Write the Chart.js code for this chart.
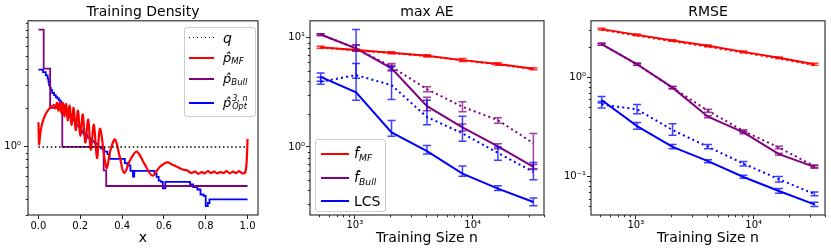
<!DOCTYPE html>
<html><head><meta charset="utf-8">
<script src="https://cdn.jsdelivr.net/npm/chart.js@4.4.0/dist/chart.umd.min.js"></script>
<style>
html,body{margin:0;padding:0;background:#fff;}
body{width:831px;height:252px;overflow:hidden;position:relative;font-family:"DejaVu Sans";}
canvas{position:absolute;top:0;display:block;}
.leg{position:absolute;background:rgba(255,255,255,0.85);border:1px solid #ccc;border-radius:3px;box-sizing:border-box;}
.row{position:absolute;left:0;height:0;width:100%;}
.ln{position:absolute;height:2px;top:-1px;}
.tx{position:absolute;top:0;transform:translateY(-50%);white-space:nowrap;line-height:1;color:#000;}
.tx i{font-style:italic;}
.tx sub{font-size:0.66em;vertical-align:-0.25em;font-style:italic;}
.ss{display:inline-block;vertical-align:middle;font-size:0.62em;font-style:italic;line-height:1.05;margin-left:1px;}
.ss span{display:block;}
</style>
</head><body>
<canvas id="c1" width="275" height="252" style="left:0px"></canvas>
<canvas id="c2" width="275" height="252" style="left:275px"></canvas>
<canvas id="c3" width="281" height="252" style="left:550px"></canvas>

<div class="leg" style="left:184px;top:27px;width:72px;height:90px;">
  <div class="row" style="top:9.7px"><span class="ln" style="left:4px;width:25px;height:1.5px;background:repeating-linear-gradient(to right,#000 0 1.5px,transparent 1.5px 4px);"></span><span class="tx" style="left:38px;font-size:14px"><i>q</i></span></div>
  <div class="row" style="top:30.3px"><span class="ln" style="left:4px;width:25px;background:#ff0000"></span><span class="tx" style="left:38px;font-size:13px"><i>p̂</i><sub>MF</sub></span></div>
  <div class="row" style="top:51.3px"><span class="ln" style="left:4px;width:25px;background:#800080"></span><span class="tx" style="left:38px;font-size:13px"><i>p̂</i><sub>Bull</sub></span></div>
  <div class="row" style="top:74.7px"><span class="ln" style="left:4px;width:25px;background:#0000ff"></span><span class="tx" style="left:38px;font-size:13px"><i>p̂</i><span class="ss"><span>3, n</span><span>Opt</span></span></span></div>
</div>

<div class="leg" style="left:315px;top:139px;width:71px;height:73px;">
  <div class="row" style="top:14px"><span class="ln" style="left:5px;width:28px;background:#ff0000"></span><span class="tx" style="left:38px;font-size:14px"><i>f̂</i><sub>MF</sub></span></div>
  <div class="row" style="top:38px"><span class="ln" style="left:5px;width:28px;background:#800080"></span><span class="tx" style="left:38px;font-size:14px"><i>f̂</i><sub>Bull</sub></span></div>
  <div class="row" style="top:61px"><span class="ln" style="left:5px;width:28px;background:#0000ff"></span><span class="tx" style="left:38px;font-size:14px">LCS</span></div>
</div>

<script>
// ---------------- Panel 1: Training Density ----------------
const densityXTicks = [0, 0.2, 0.4, 0.6, 0.8, 1.0];
const densityYMajor = [1];
const densityYMinor = [0.3,0.4,0.5,0.6,0.7,0.8,0.9,2,3,4,5,6,7,8,9];
const q_x = [0, 1];
const q_y = [1, 1];
const mf_x = [0,0.003,0.008,0.015,0.025,0.036,0.05,0.062,0.075,0.082,0.089,0.096,0.103,0.110,0.117,0.124,0.132,0.140,0.149,0.158,0.168,0.178,0.189,0.200,0.212,0.224,0.238,0.250,0.265,0.280,0.295,0.325,0.345,0.366,0.388,0.41,0.44,0.47,0.505,0.545,0.58,0.615,0.64,0.665,0.69,0.71,0.73,0.75,0.765,0.78,0.795,0.81,0.825,0.84,0.855,0.87,0.885,0.90,0.915,0.93,0.945,0.96,0.975,0.99,0.997,1.0];
const mf_y = [1.55,1.05,1.25,1.45,1.65,1.81,1.95,2.05,2.10,1.98,2.18,1.90,2.20,1.82,2.18,1.72,2.14,1.60,2.08,1.48,2.00,1.35,1.90,1.22,1.78,1.08,1.62,0.95,1.48,0.82,1.38,0.69,0.95,1.14,0.85,0.63,0.80,0.92,0.75,0.60,0.70,0.76,0.73,0.70,0.67,0.66,0.63,0.645,0.62,0.64,0.625,0.65,0.63,0.645,0.625,0.64,0.63,0.65,0.625,0.645,0.63,0.65,0.625,0.645,0.85,1.15];
const bull_x = [0, 0.025, 0.056, 0.114, 0.312, 0.324, 1.0];
const bull_y = [8, 4, 2, 1, 0.66, 0.5, 0.5];
const opt_x = [0,0.022,0.035,0.044,0.048,0.051,0.056,0.059,0.066,0.075,0.083,0.090,0.098,0.106,0.110,0.114,0.122,0.129,0.136,0.142,0.148,0.153,0.160,0.168,0.176,0.192,0.200,0.207,0.215,0.223,0.235,0.246,0.258,0.270,0.285,0.300,0.315,0.330,0.340,0.413,0.425,0.440,0.452,0.458,0.555,0.565,0.575,0.585,0.595,0.607,0.725,0.740,0.760,0.775,0.790,0.800,0.810,0.818,1.0];
const opt_y = [3.94,3.77,3.55,3.36,3.15,2.98,2.85,2.73,2.60,2.50,2.42,2.36,2.28,2.22,2.15,2.09,2.03,1.97,1.88,1.81,1.75,1.70,1.65,1.60,1.47,1.42,1.36,1.30,1.26,1.23,1.18,1.13,1.10,1.06,1.00,0.97,0.92,0.88,0.81,0.75,0.72,0.654,0.59,0.654,0.62,0.588,0.55,0.538,0.48,0.538,0.515,0.49,0.47,0.43,0.42,0.35,0.37,0.394,0.394];

// ---------------- Panels 2 & 3 ----------------
const nSizes = [512, 1024, 2048, 4096, 8192, 16384, 32768];
const nMajor = [10000, 1000];
const nMinor = [500,600,700,800,900,2000,3000,4000,5000,6000,7000,8000,9000,20000,30000,40000];

// max AE
const ae_mf = [8.17, 7.71, 7.28, 6.84, 6.24, 5.74, 5.20];
const ae_mf_lo = [8.0, 7.55, 7.15, 6.65, 6.05, 5.60, 5.10];
const ae_mf_hi = [8.35, 7.90, 7.45, 7.00, 6.45, 5.90, 5.30];
const ae_mf_dot = [8.12, 7.66, 7.24, 6.80, 6.20, 5.70, 5.16];
const ae_bull = [10.7, 8.0, 5.24, 2.36, 1.51, 1.01, 0.656];
const ae_bull_lo = [10.5, 7.6, 4.95, 2.15, 1.40, 0.96, 0.63];
const ae_bull_hi = [10.9, 8.6, 5.6, 2.85, 1.62, 1.07, 0.69];
const ae_bull_dot = [10.7, 8.0, 5.42, 3.38, 2.33, 1.76, 1.08];
const ae_bull_dot_lo = [10.5, 7.6, 5.1, 3.2, 2.1, 1.65, 0.62];
const ae_bull_dot_hi = [10.9, 8.6, 5.8, 3.55, 2.6, 1.85, 1.33];
const ae_lcs = [4.38, 3.16, 1.36, 0.914, 0.57, 0.415, 0.313];
const ae_lcs_lo = [4.0, 2.68, 1.25, 0.86, 0.54, 0.40, 0.29];
const ae_lcs_hi = [4.75, 5.8, 1.75, 1.03, 0.67, 0.44, 0.34];
const ae_lcs_dot = [3.95, 4.55, 3.68, 1.88, 1.33, 0.88, 0.59];
const ae_lcs_dot_lo = [3.75, 4.25, 2.72, 1.60, 1.13, 0.755, 0.50];
const ae_lcs_dot_hi = [4.35, 11.9, 5.42, 2.68, 1.91, 1.0, 0.72];
const aeYMajor = [1, 10];
const aeYMinor = [0.3,0.4,0.5,0.6,0.7,0.8,0.9,2,3,4,5,6,7,8,9];

// RMSE
const rm_mf = [3.05, 2.67, 2.34, 2.07, 1.80, 1.57, 1.35];
const rm_mf_lo = [2.99, 2.62, 2.30, 2.03, 1.76, 1.54, 1.32];
const rm_mf_hi = [3.11, 2.72, 2.38, 2.11, 1.84, 1.60, 1.38];
const rm_mf_dot = [3.0, 2.62, 2.30, 2.03, 1.77, 1.54, 1.32];
const rm_bull = [2.15, 1.35, 0.785, 0.40, 0.278, 0.168, 0.125];
const rm_bull_lo = [2.10, 1.32, 0.765, 0.39, 0.270, 0.164, 0.121];
const rm_bull_hi = [2.20, 1.38, 0.805, 0.41, 0.286, 0.172, 0.129];
const rm_bull_dot = [2.15, 1.35, 0.785, 0.46, 0.287, 0.196, 0.127];
const rm_bull_dot_lo = [2.10, 1.32, 0.765, 0.445, 0.278, 0.190, 0.123];
const rm_bull_dot_hi = [2.20, 1.38, 0.805, 0.475, 0.296, 0.202, 0.131];
const rm_lcs = [0.59, 0.322, 0.199, 0.143, 0.099, 0.0716, 0.0525];
const rm_lcs_lo = [0.55, 0.30, 0.19, 0.138, 0.096, 0.068, 0.050];
const rm_lcs_hi = [0.64, 0.35, 0.21, 0.148, 0.103, 0.076, 0.055];
const rm_lcs_dot = [0.53, 0.475, 0.294, 0.199, 0.135, 0.094, 0.0667];
const rm_lcs_dot_lo = [0.49, 0.43, 0.26, 0.19, 0.128, 0.088, 0.064];
const rm_lcs_dot_hi = [0.57, 0.53, 0.34, 0.21, 0.142, 0.100, 0.070];
const rmYMajor = [0.1, 1];
const rmYMinor = [0.05,0.06,0.07,0.08,0.09,0.2,0.3,0.4,0.5,0.6,0.7,0.8,0.9,2,3];

const POW_LABELS = {"0.1":"10⁻¹","1":"10⁰","10":"10¹","1000":"10³","10000":"10⁴"};
const FONT = "DejaVu Sans";
const RED = "#ff0000", PURPLE = "#800080", BLUE = "#0000ff";

const pts = (xs, ys) => xs.map((x, i) => ({x, y: ys[i]}));

const framePlugin = {
  id: 'frame',
  afterDraw(chart, args, opts) {
    const {ctx, chartArea: {left, right, top, bottom}} = chart;
    const xs = chart.scales.x, ys = chart.scales.y;
    ctx.save();
    ctx.strokeStyle = '#222'; ctx.lineWidth = 1; ctx.setLineDash([]);
    ctx.beginPath();
    (opts.xMinor || []).forEach(v => {
      if (v < xs.min || v > xs.max) return;
      const x = Math.round(xs.getPixelForValue(v)) + 0.5;
      ctx.moveTo(x, bottom); ctx.lineTo(x, bottom + 2.2);
    });
    (opts.yMinor || []).forEach(v => {
      if (v < ys.min || v > ys.max) return;
      const y = Math.round(ys.getPixelForValue(v)) + 0.5;
      ctx.moveTo(left, y); ctx.lineTo(left - 2.2, y);
    });
    ctx.stroke();
    ctx.lineWidth = 1.1;
    ctx.strokeRect(left, top, right - left, bottom - top);
    ctx.restore();
  }
};

const errorBarPlugin = {
  id: 'errbars',
  afterDatasetsDraw(chart) {
    const {ctx, chartArea} = chart;
    const xs = chart.scales.x, ys = chart.scales.y;
    ctx.save();
    ctx.beginPath();
    ctx.rect(chartArea.left, chartArea.top, chartArea.right - chartArea.left, chartArea.bottom - chartArea.top);
    ctx.clip();
    chart.data.datasets.forEach(ds => {
      if (!ds.errLo) return;
      ctx.strokeStyle = ds.errColor; ctx.lineWidth = 1.5; ctx.setLineDash([]);
      ds.data.forEach((p, i) => {
        const x = xs.getPixelForValue(p.x);
        const y1 = ys.getPixelForValue(ds.errLo[i]);
        const y2 = ys.getPixelForValue(ds.errHi[i]);
        ctx.beginPath();
        ctx.moveTo(x, y1); ctx.lineTo(x, y2);
        ctx.moveTo(x - 4, y1); ctx.lineTo(x + 4, y1);
        ctx.moveTo(x - 4, y2); ctx.lineTo(x + 4, y2);
        ctx.stroke();
      });
    });
    ctx.restore();
  }
};

function makeOptions(o) {
  const tickFont = {family: FONT, size: 10};
  return {
    responsive: false, animation: false, devicePixelRatio: 1,
    layout: {padding: {left: 0, right: o.padRight, top: 0, bottom: 0}},
    elements: {point: {radius: 0, hoverRadius: 0}},
    plugins: {
      legend: {display: false}, tooltip: {enabled: false},
      title: {display: true, text: o.title, fullSize: false, color: '#000',
              font: {family: FONT, size: 14, weight: 'normal'}, padding: {top: 4, bottom: 0}},
      frame: {xMinor: o.xMinor, yMinor: o.yMinor}
    },
    scales: {
      x: {
        type: o.xType, min: o.xMin, max: o.xMax, bounds: 'data',
        afterBuildTicks: s => { s.ticks = o.xMajor.map(v => ({value: v, major: false})); },
        afterFit: s => { s.height = 37; },
        ticks: {autoSkip: false, maxRotation: 0, minRotation: 0, padding: o.xPad, color: '#000', font: tickFont,
                major: {enabled: false}, align: 'center', crossAlign: 'near',
                callback: o.xLabel},
        grid: {display: true, drawOnChartArea: false, drawTicks: true, tickLength: 4, color: '#222', lineWidth: 1},
        border: {display: false},
        title: {display: true, text: o.xTitle, color: '#000', font: {family: FONT, size: 14}, padding: {top: 0, bottom: 5}}
      },
      y: {
        type: 'logarithmic', min: o.yMin, max: o.yMax, bounds: 'data',
        afterBuildTicks: s => { s.ticks = o.yMajor.map(v => ({value: v, major: false})); },
        afterFit: s => { s.width = o.yWidth; },
        ticks: {autoSkip: false, padding: o.yPad, color: '#000', font: tickFont, major: {enabled: false},
                callback: v => POW_LABELS[String(v)] || ''},
        grid: {display: true, drawOnChartArea: false, drawTicks: true, tickLength: 4, color: '#222', lineWidth: 1},
        border: {display: false}
      }
    }
  };
}

function lineDS(label, xs, ys, color, opts) {
  return Object.assign({label, data: pts(xs, ys), borderColor: color, backgroundColor: color,
    borderWidth: 2, pointRadius: 0, fill: false, tension: 0}, opts || {});
}

// Panel 1
new Chart(document.getElementById('c1'), {
  type: 'line',
  data: {datasets: [
    lineDS('q', q_x, q_y, '#000', {borderWidth: 1.5, borderDash: [1.5, 2.6]}),
    lineDS('p_MF', mf_x, mf_y, RED, {tension: 0.35, borderWidth: 2.2}),
    lineDS('p_Bull', bull_x, bull_y, PURPLE, {stepped: true, borderWidth: 1.8}),
    lineDS('p_Opt', opt_x, opt_y, BLUE, {stepped: true, borderWidth: 1.8})
  ]},
  options: makeOptions({title: 'Training Density', padRight: 17, yWidth: 28,
    xType: 'linear', xMin: -0.05, xMax: 1.05, xMajor: densityXTicks, xMinor: [], xPad: 1,
    xLabel: v => Number(v).toFixed(1), xTitle: 'x',
    yMin: 0.299, yMax: 9.35, yMajor: densityYMajor, yMinor: densityYMinor, yPad: 3}),
  plugins: [framePlugin]
});

function errDS(label, ys, lo, hi, color, errColor, dashed) {
  return lineDS(label, nSizes, ys, color, {
    borderDash: dashed ? [2, 3.2] : [], errLo: lo, errHi: hi, errColor: errColor});
}

// Panel 2
new Chart(document.getElementById('c2'), {
  type: 'line',
  data: {datasets: [
    errDS('f_MF', ae_mf, ae_mf_lo, ae_mf_hi, RED, 'rgba(255,0,0,0.8)', false),
    errDS('f_MF dotted', ae_mf_dot, null, null, RED, RED, true),
    errDS('f_Bull', ae_bull, ae_bull_lo, ae_bull_hi, PURPLE, 'rgba(128,0,128,0.75)', false),
    errDS('f_Bull dotted', ae_bull_dot, ae_bull_dot_lo, ae_bull_dot_hi, PURPLE, 'rgba(128,0,128,0.75)', true),
    errDS('LCS', ae_lcs, ae_lcs_lo, ae_lcs_hi, BLUE, 'rgba(0,0,255,0.75)', false),
    errDS('LCS dotted', ae_lcs_dot, ae_lcs_dot_lo, ae_lcs_dot_hi, BLUE, 'rgba(0,0,255,0.75)', true)
  ]},
  options: makeOptions({title: 'max AE', padRight: 6, yWidth: 35,
    xType: 'logarithmic', xMin: 416, xMax: 40330, xMajor: nMajor, xMinor: nMinor, xPad: 0,
    xLabel: v => POW_LABELS[String(v)] || '', xTitle: 'Training Size n',
    yMin: 0.238, yMax: 14.3, yMajor: aeYMajor, yMinor: aeYMinor, yPad: 1}),
  plugins: [errorBarPlugin, framePlugin]
});

// Panel 3
new Chart(document.getElementById('c3'), {
  type: 'line',
  data: {datasets: [
    errDS('f_MF', rm_mf, rm_mf_lo, rm_mf_hi, RED, 'rgba(255,0,0,0.8)', false),
    errDS('f_MF dotted', rm_mf_dot, null, null, RED, RED, true),
    errDS('f_Bull', rm_bull, rm_bull_lo, rm_bull_hi, PURPLE, 'rgba(128,0,128,0.75)', false),
    errDS('f_Bull dotted', rm_bull_dot, rm_bull_dot_lo, rm_bull_dot_hi, PURPLE, 'rgba(128,0,128,0.75)', true),
    errDS('LCS', rm_lcs, rm_lcs_lo, rm_lcs_hi, BLUE, 'rgba(0,0,255,0.75)', false),
    errDS('LCS dotted', rm_lcs_dot, rm_lcs_dot_lo, rm_lcs_dot_hi, BLUE, 'rgba(0,0,255,0.75)', true)
  ]},
  options: makeOptions({title: 'RMSE', padRight: 6, yWidth: 41,
    xType: 'logarithmic', xMin: 416, xMax: 40330, xMajor: nMajor, xMinor: nMinor, xPad: 0,
    xLabel: v => POW_LABELS[String(v)] || '', xTitle: 'Training Size n',
    yMin: 0.041, yMax: 3.7, yMajor: rmYMajor, yMinor: rmYMinor, yPad: 1}),
  plugins: [errorBarPlugin, framePlugin]
});
</script>
</body></html>
